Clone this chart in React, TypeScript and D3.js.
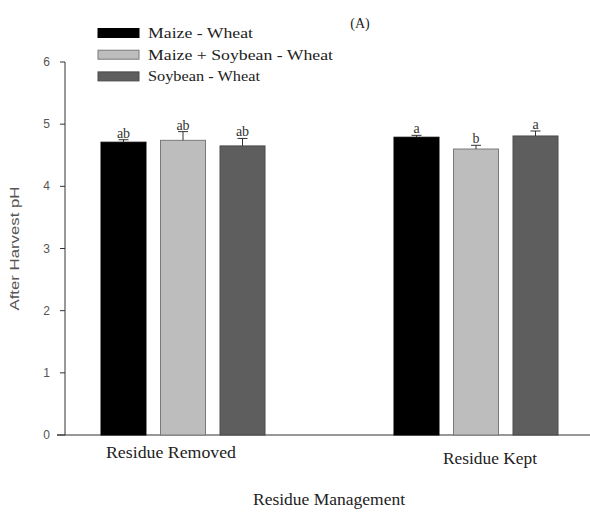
import React from "react";
import * as d3 from "d3";

const categories = ["Residue Removed", "Residue Kept"];
const seriesNames = ["Maize - Wheat", "Maize + Soybean - Wheat", "Soybean - Wheat"];
const seriesColors = ["#000000", "#bdbdbd", "#5e5e5e"];
const seriesStrokes = ["#000000", "#7a7a7a", "#4a4a4a"];
// values[series][category]
const maizeWheat = [4.71, 4.79];
const maizeSoyWheat = [4.74, 4.6];
const soyWheat = [4.65, 4.81];
const maizeWheatErr = [0.04, 0.03];
const maizeSoyWheatErr = [0.14, 0.06];
const soyWheatErr = [0.12, 0.08];
const maizeWheatLetters = ["ab", "a"];
const maizeSoyWheatLetters = ["ab", "b"];
const soyWheatLetters = ["ab", "a"];
const yTicks = [0, 1, 2, 3, 4, 5, 6];

const values = [maizeWheat, maizeSoyWheat, soyWheat];
const errors = [maizeWheatErr, maizeSoyWheatErr, soyWheatErr];
const letters = [maizeWheatLetters, maizeSoyWheatLetters, soyWheatLetters];

export default function App() {
  const W = 590, H = 512;
  const axisX = 65;
  const y = d3.scaleLinear().domain([0, 6]).range([435, 62]);
  const x0 = d3.scaleBand<string>().domain(categories).range([36.5, 622.5]).padding(0);
  const x1 = d3.scaleBand<string>().domain(seriesNames).range([64.5, 228.5]).paddingInner(0.244).paddingOuter(0);
  const serif = "'Liberation Serif', 'Times New Roman', serif";
  const sans = "'Liberation Sans', Arial, sans-serif";

  const catLabelOffsets = [-12, 14];
  const catLabelY = [458, 464];
  const catLabelLen = [130, 94];

  return (
    <svg width={W} height={H} style={{ position: "absolute", left: 0, top: 0, background: "#fff" }}>
      {/* title */}
      <text x={360} y={28} fontFamily={serif} fontSize={14} textAnchor="middle" fill="#222">(A)</text>

      {/* legend */}
      {seriesNames.map((s, i) => (
        <g key={s} transform={`translate(98, ${28.5 + i * 21.7})`}>
          <rect x={0} y={0} width={41} height={9} fill={seriesColors[i]} stroke={seriesStrokes[i]} strokeWidth={1} />
          <text x={50} y={9.5} fontFamily={serif} fontSize={15.5} fill="#222"
            textLength={i === 0 ? 105 : i === 1 ? 185 : 112} lengthAdjust="spacingAndGlyphs">{s}</text>
        </g>
      ))}

      {/* y axis */}
      <line x1={axisX} x2={axisX} y1={y(6)} y2={y(0)} stroke="#333" strokeWidth={1} />
      {yTicks.map((t) => (
        <g key={t}>
          <line x1={t === 0 ? 57 : 60} x2={axisX} y1={y(t)} y2={y(t)} stroke="#333" strokeWidth={1} />
          <text x={50} y={y(t) + 4} fontFamily={sans} fontSize={12} textAnchor="end" fill="#555">{t}</text>
        </g>
      ))}
      <text transform={`translate(19, ${y(3)}) rotate(-90)`} fontFamily={sans} fontSize={13} textAnchor="middle"
        fill="#555" textLength={124} lengthAdjust="spacingAndGlyphs">After Harvest pH</text>

      {/* x axis */}
      <line x1={57} x2={590} y1={y(0)} y2={y(0)} stroke="#333" strokeWidth={1.2} />

      {/* bars */}
      {categories.map((c, ci) => (
        <g key={c} transform={`translate(${x0(c)}, 0)`}>
          {seriesNames.map((s, si) => {
            const v = values[si][ci];
            const e = errors[si][ci];
            const bx = x1(s)!;
            const bw = x1.bandwidth();
            const cx = bx + bw / 2;
            return (
              <g key={s}>
                <rect x={bx} y={y(v)} width={bw} height={y(0) - y(v)} fill={seriesColors[si]} stroke={seriesStrokes[si]} strokeWidth={1} />
                <line x1={cx} x2={cx} y1={y(v)} y2={y(v + e)} stroke="#333" strokeWidth={1} />
                <line x1={cx - 5} x2={cx + 5} y1={y(v + e)} y2={y(v + e)} stroke="#333" strokeWidth={1} />
                <text x={cx} y={y(v + e) - 2} fontFamily={serif} fontSize={14} textAnchor="middle" fill="#333">{letters[si][ci]}</text>
              </g>
            );
          })}
          <text x={x0.bandwidth() / 2 + catLabelOffsets[ci]} y={catLabelY[ci]} fontFamily={serif} fontSize={16}
            textAnchor="middle" fill="#222" textLength={catLabelLen[ci]} lengthAdjust="spacingAndGlyphs">{c}</text>
        </g>
      ))}

      <text x={329} y={505} fontFamily={serif} fontSize={16} textAnchor="middle" fill="#222"
        textLength={152} lengthAdjust="spacingAndGlyphs">Residue Management</text>
    </svg>
  );
}
